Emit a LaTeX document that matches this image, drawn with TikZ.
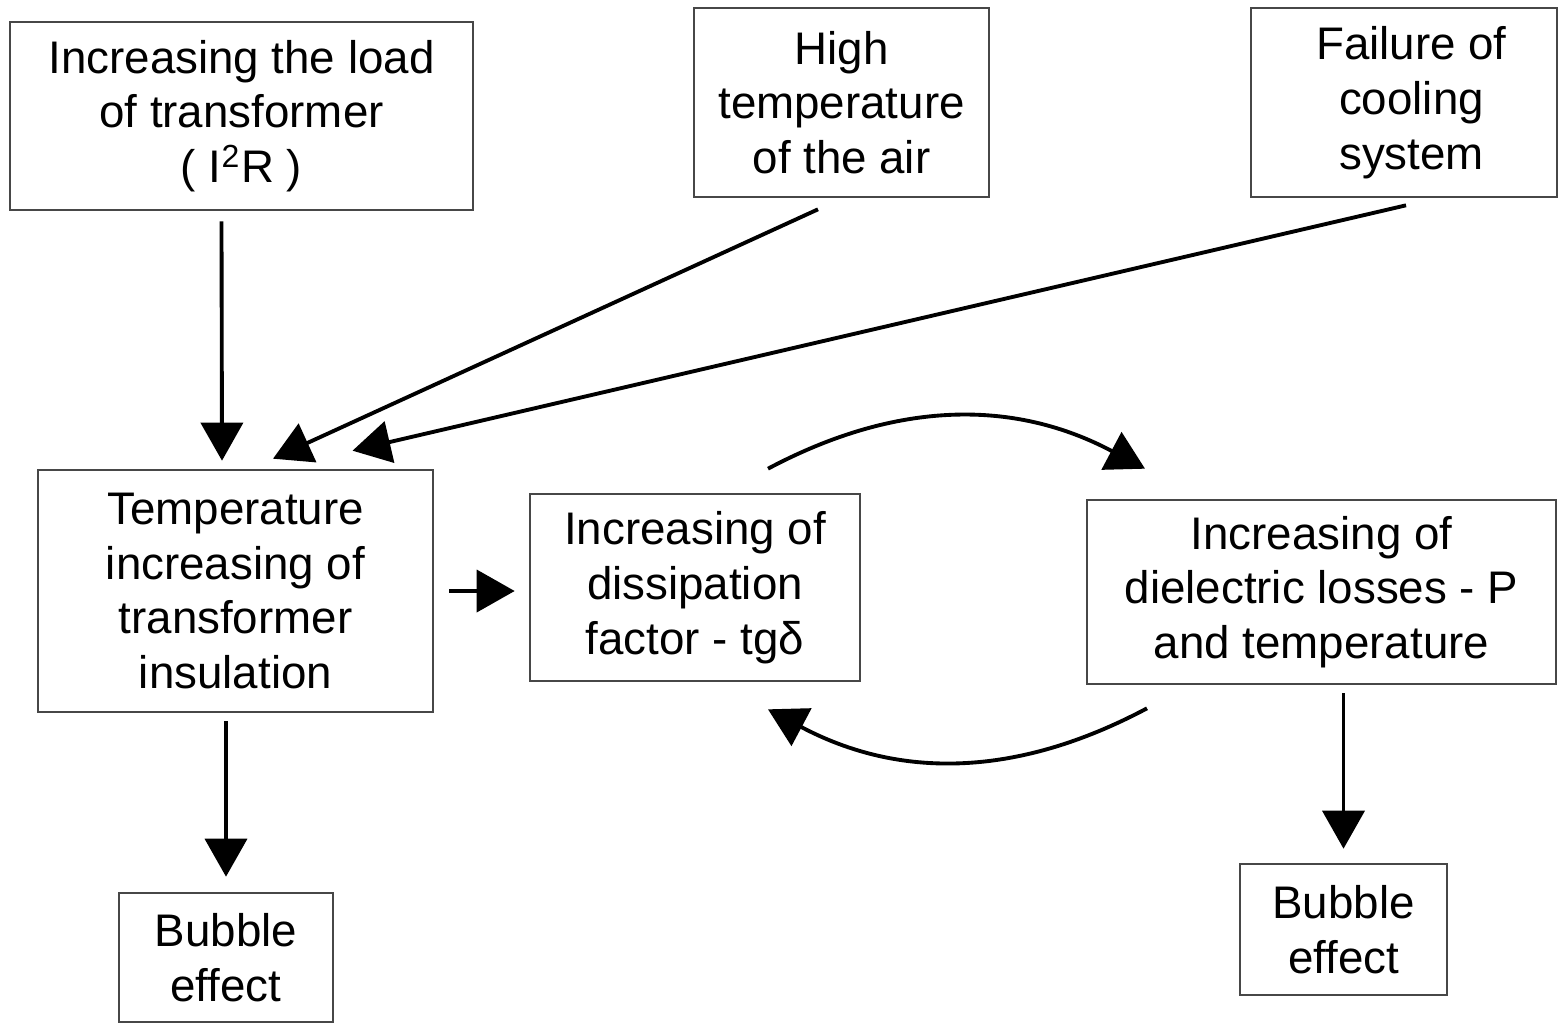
\documentclass[tikz,border=0pt]{standalone}
\usepackage{fontspec}
\setmainfont{Liberation Sans}
\usetikzlibrary{arrows.meta}

\begin{document}
\begin{tikzpicture}[
    box/.style={draw=black!72, line width=0.75pt, align=center, inner sep=0pt,
        font=\fontsize{13}{15.6}\selectfont},
    arr/.style={line width=1.1pt, -{Triangle[length=3.8mm,width=4.2mm]}}
]
    \useasboundingbox (0,0) rectangle (15.59,-10.24);

    % causes
    \node[box, minimum width=4.63cm, minimum height=1.88cm] (load) at (2.415,-1.16)
        {Increasing the load\\of transformer\\( I\textsuperscript{2}R )};
    \node[box, minimum width=2.95cm, minimum height=1.89cm] (air) at (8.415,-1.025)
        {High\\temperature\\of the air};
    \node[box, minimum width=3.06cm, minimum height=1.89cm] (cooling) at (14.04,-1.025)
        {\hspace*{0.15cm}Failure of\\\hspace*{0.15cm}cooling\\\hspace*{0.15cm}system};

    % middle row
    \node[box, minimum width=3.95cm, minimum height=2.42cm] (temp) at (2.355,-5.91)
        {Temperature\\increasing of\\transformer\\insulation};
    \node[box, minimum width=3.30cm, minimum height=1.87cm] (diss) at (6.95,-5.875)
        {Increasing of\\dissipation\\factor - tgδ};
    \node[box, minimum width=4.69cm, minimum height=1.84cm] (diel) at (13.215,-5.92)
        {Increasing of\\dielectric losses - P\\and temperature};

    % effects
    \node[box, minimum width=2.14cm, minimum height=1.29cm] (bubleft) at (2.26,-9.575)
        {Bubble\\effect};
    \node[box, minimum width=2.07cm, minimum height=1.31cm] (bubright) at (13.435,-9.295)
        {Bubble\\effect};

    % arrows
    \draw[arr] ([shift={(-0.2,-0.1)}]load.south) -- ([shift={(-0.135,0.08)}]temp.north);
    \draw[arr] ([shift={(-0.235,-0.11)}]air.south) -- ([shift={(0.375,0.1)}]temp.north);
    \draw[arr] ([shift={(0.02,-0.07)}]cooling.south) -- ([shift={(1.17,0.18)}]temp.north);
    \draw[arr, shorten <=1.5mm, shorten >=1.4mm] (temp.east) -- (temp.east -| diss.west);

    \draw[arr] ([shift={(0.73,0.24)}]diss.north) to[out=28, in=152] ([shift={(-1.765,0.30)}]diel.north);
    \draw[arr] ([shift={(-1.745,-0.23)}]diel.south) to[out=208, in=-28] ([shift={(0.73,-0.27)}]diss.south);

    \draw[arr, shorten <=0.8mm, shorten >=1.5mm] (temp.south -| bubleft.north) -- (bubleft.north);
    \draw[arr, shorten <=0.8mm, shorten >=1.4mm] (diel.south -| bubright.north) -- (bubright.north);
\end{tikzpicture}
\end{document}
